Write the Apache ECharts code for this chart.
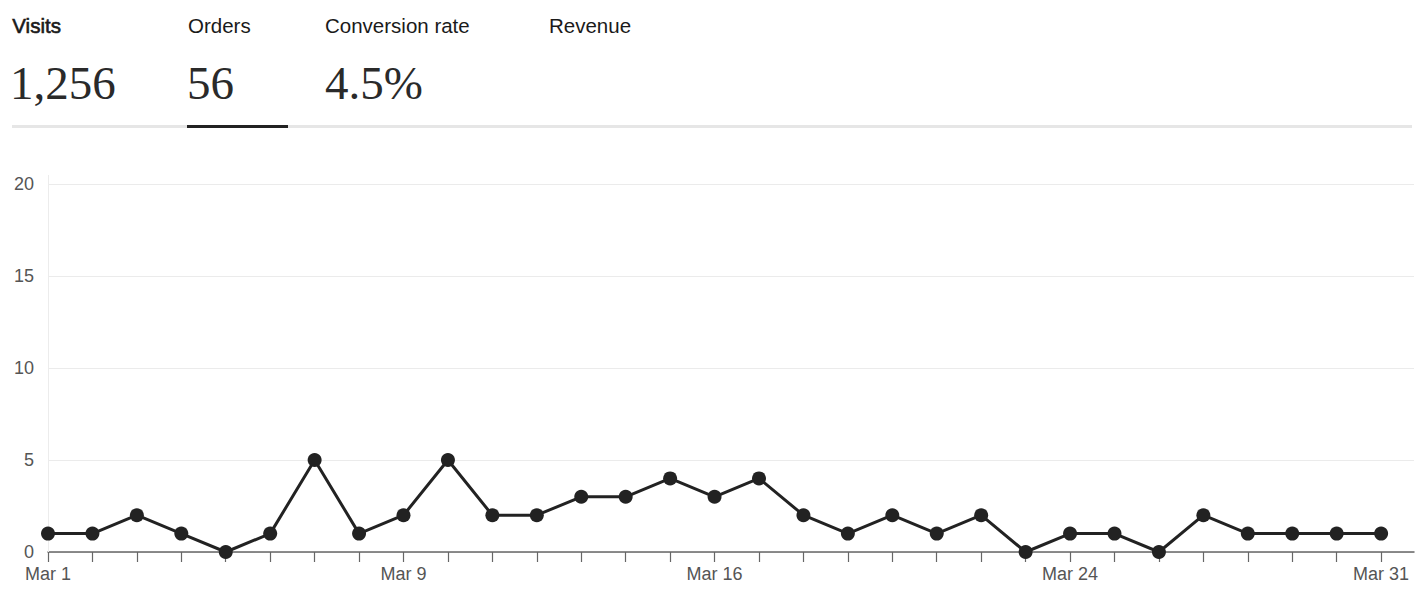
<!DOCTYPE html>
<html>
<head>
<meta charset="utf-8">
<script src="https://cdn.jsdelivr.net/npm/echarts@6/dist/echarts.min.js"></script>
<style>
  html, body { margin: 0; padding: 0; background: #fff; }
  #chart { width: 1420px; height: 593px; }
</style>
</head>
<body>
<div id="chart"></div>
<script>
// ---- data ----
const dates = ['Mar 1','Mar 2','Mar 3','Mar 4','Mar 5','Mar 6','Mar 7','Mar 8','Mar 9','Mar 10',
  'Mar 11','Mar 12','Mar 13','Mar 14','Mar 15','Mar 16','Mar 17','Mar 18','Mar 19','Mar 20',
  'Mar 21','Mar 22','Mar 23','Mar 24','Mar 25','Mar 26','Mar 27','Mar 28','Mar 29','Mar 30','Mar 31'];
const days = [1,2,3,4,5,6,7,8,9,10,11,12,13,14,15,16,17,18,19,20,21,22,23,24,25,26,27,28,29,30,31];
const orders = [1,1,2,1,0,1,5,1,2,5,2,2,3,3,4,3,4,2,1,2,1,2,0,1,1,0,2,1,1,1,1];
const xLabelDays = [1, 9, 16, 24, 31];
const yTicks = [0, 5, 10, 15, 20];

const tabLabels = ['Visits', 'Orders', 'Conversion rate', 'Revenue'];
const tabValues = ['1,256', '56', '4.5%', ''];
const selectedTab = 1;

// ---- layout ----
const tabX = [12, 188, 325, 549];
const valueX = [10, 187, 325, 549];

const chart = echarts.init(document.getElementById('chart'), null, { renderer: 'svg' });

const graphics = [];
tabLabels.forEach((t, i) => {
  graphics.push({
    type: 'text', left: tabX[i], top: 15, z: 10,
    style: {
      text: t, font: '20.5px "Liberation Sans", Arial, sans-serif', fill: '#1a1a1a',
      stroke: i === 0 ? '#1a1a1a' : null, lineWidth: i === 0 ? 0.6 : 0
    }
  });
  if (tabValues[i]) {
    graphics.push({
      type: 'text', left: valueX[i], top: 59, z: 10,
      style: { text: tabValues[i], font: '47px "Liberation Serif", "Times New Roman", serif', fill: '#2a2a2a' }
    });
  }
});
// divider and selected underline
graphics.push({ type: 'rect', shape: { x: 12, y: 125, width: 1400, height: 3 }, style: { fill: '#e6e6e6' }, z: 5 });
graphics.push({ type: 'rect', shape: { x: tabX[selectedTab] - 1, y: 125, width: 101, height: 3 }, style: { fill: '#222' }, z: 6 });
// faint y axis line
graphics.push({ type: 'line', shape: { x1: 48.5, y1: 175, x2: 48.5, y2: 552 }, style: { stroke: '#ececec', lineWidth: 1 }, z: 1 });

chart.setOption({
  animation: false,
  backgroundColor: '#fff',
  graphic: graphics,
  grid: { left: 48, right: 6, top: 184, bottom: 41, containLabel: false },
  xAxis: {
    type: 'value',
    min: 1,
    max: 31.74,
    interval: 1,
    axisLine: { show: true, lineStyle: { color: '#666', width: 1.5 } },
    axisTick: { show: true, length: 10, lineStyle: { color: '#666', width: 1.2 } },
    splitLine: { show: false },
    axisLabel: {
      margin: 13,
      color: '#555',
      fontSize: 18,
      fontFamily: '"Liberation Sans", Arial, sans-serif',
      showMaxLabel: false,
      formatter: function (v) {
        const d = Math.round(v);
        if (Math.abs(v - d) > 1e-6) return '';
        return xLabelDays.indexOf(d) >= 0 ? dates[d - 1] : '';
      }
    }
  },
  yAxis: {
    type: 'value',
    min: yTicks[0],
    max: yTicks[yTicks.length - 1],
    interval: 5,
    axisLine: { show: false },
    axisTick: { show: false },
    splitLine: { show: true, lineStyle: { color: '#ebebeb', width: 1 } },
    axisLabel: {
      margin: 14,
      color: '#555',
      fontSize: 18,
      fontFamily: '"Liberation Sans", Arial, sans-serif'
    }
  },
  series: [{
    type: 'line',
    data: days.map((d, i) => [d, orders[i]]),
    symbol: 'circle',
    symbolSize: 14,
    showAllSymbol: true,
    lineStyle: { color: '#222', width: 3 },
    itemStyle: { color: '#222' },
    clip: false,
    z: 3
  }]
});
</script>
</body>
</html>
